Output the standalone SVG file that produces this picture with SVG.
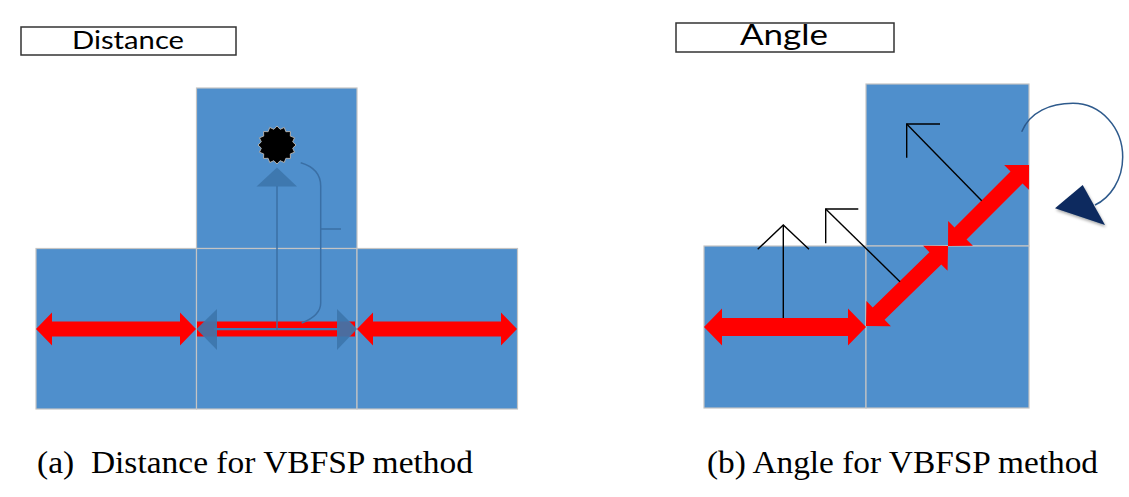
<svg xmlns="http://www.w3.org/2000/svg" width="1129" height="497" viewBox="0 0 1129 497">
<style>
.sq{fill:#4f8fcc;stroke:#c4c4c4;stroke-width:1.2}
.red{fill:#ff0000}
.bl{fill:none;stroke:#3a6fa5;stroke-width:1.5}
.tri{fill:#3d76ad;fill-opacity:0.92}
.blk{fill:none;stroke:#000;stroke-width:1.4}
.box{fill:#fff;stroke:#333;stroke-width:1.5}
.ttl{font-family:Lato,"Open Sans",sans-serif;fill:#000;text-anchor:middle}
.cap{font-family:"Liberation Serif","Times New Roman",serif;font-size:32px;fill:#000}
</style>
<defs>
<path id="dd" d="M0,0 L17.7,-17.5 L17.7,-8.5 L96.9,-8.5 L96.9,-17.5 L114.6,0 L96.9,17.5 L96.9,8.5 L17.7,8.5 L17.7,17.5 Z"/>
<filter id="sh" x="-30%" y="-30%" width="160%" height="160%"><feGaussianBlur in="SourceAlpha" stdDeviation="1.5"/><feOffset dx="1" dy="2"/><feComponentTransfer><feFuncA type="linear" slope="0.35"/></feComponentTransfer><feMerge><feMergeNode/><feMergeNode in="SourceGraphic"/></feMerge></filter>
</defs>
<rect width="1129" height="497" fill="#fff"/>

<!-- Left figure -->
<g id="dist-label">
<rect class="box" x="21" y="27" width="215" height="28"/>
<text class="ttl" x="128" y="49" font-size="25" textLength="112" lengthAdjust="spacingAndGlyphs">Distance</text>
</g>
<g id="left-top"><rect class="sq" x="196.5" y="88" width="160.5" height="160.5"/></g>
<g id="left-bl"><rect class="sq" x="36" y="248.5" width="160.5" height="160.5"/></g>
<g id="left-bm"><rect class="sq" x="196.5" y="248.5" width="160.5" height="160.5"/></g>
<g id="left-br"><rect class="sq" x="357" y="248.5" width="160.5" height="160.5"/></g>
<g id="target">
<polygon fill="#000" stroke="#b0b0b0" stroke-width="1" points="277,126 280.12,129.31 284.27,127.45 285.89,131.7 290.43,131.57 290.3,136.11 294.55,137.73 292.69,141.88 296,145 292.69,148.12 294.55,152.27 290.3,153.89 290.43,158.43 285.89,158.3 284.27,162.55 280.12,160.69 277,164 273.88,160.69 269.73,162.55 268.11,158.3 263.57,158.43 263.7,153.89 259.45,152.27 261.31,148.12 258,145 261.31,141.88 259.45,137.73 263.7,136.11 263.57,131.57 268.11,131.7 269.73,127.45 273.88,129.31"/>
</g>

<!-- Right figure -->
<g id="angle-label">
<rect class="box" x="676" y="23" width="218" height="29"/>
<text class="ttl" x="784" y="45" font-size="29" textLength="88" lengthAdjust="spacingAndGlyphs">Angle</text>
</g>
<g id="right-top"><rect class="sq" x="866" y="84" width="163" height="162"/></g>
<g id="right-bl"><rect class="sq" x="704" y="246" width="162" height="162"/></g>
<g id="right-br"><rect class="sq" x="866" y="246" width="163" height="162"/></g>

<g id="connectors">
<!-- left figure red arrows -->
<polygon class="red" points="36,329 52,312.5 52,321.5 180,321.5 180,312.5 196,329 180,345.5 180,336.5 52,336.5 52,345.5"/>
<polygon class="red" points="357,329 373,312.5 373,321.5 501,321.5 501,312.5 517,329 501,345.5 501,336.5 373,336.5 373,345.5"/>
<rect class="red" x="197" y="321.5" width="158" height="15"/>
<line x1="214" y1="329.2" x2="340" y2="329.2" stroke="#3f7ab5" stroke-width="2.2"/>
<polygon class="tri" points="196.5,329 217,309 217,350"/>
<polygon class="tri" points="357,329 337,309 337,350"/>
<line class="bl" x1="277" y1="330" x2="277" y2="186"/>
<polygon class="tri" points="277,167.5 256.5,186.5 297,186.5"/>
<path class="bl" d="M300.7,162.7 C312,166 320.7,173 320.7,186 L320.7,303 C320.7,313 312,319 301.7,323"/>
<line class="bl" x1="320.7" y1="229" x2="341" y2="229"/>

<!-- right figure red arrows -->
<polygon class="red" points="704,327 722,308.5 722,318 848,318 848,308.5 866,327 848,345.5 848,336 722,336 722,345.5"/>
<use href="#dd" class="red" transform="translate(866,326) rotate(-44.3)"/>
<use href="#dd" class="red" transform="translate(948,246) rotate(-45)"/>

<!-- black normal arrows -->
<line class="blk" x1="783.3" y1="318" x2="783.3" y2="225"/>
<polyline class="blk" points="757.7,249.3 783.3,225 809,249.3"/>
<line class="blk" x1="900" y1="281.7" x2="825.7" y2="209"/>
<polyline class="blk" points="858.3,209 825.7,209 825.7,243.3"/>
<line class="blk" x1="981.7" y1="200.7" x2="906.7" y2="124"/>
<polyline class="blk" points="940,124 906.7,124 906.7,157.7"/>

<!-- rotation arrow -->
<path d="M1021.7,131.7 C1030,112 1050,103.3 1073,103.3 C1101,103.3 1122.7,128 1122.7,157 C1122.7,180 1110,198 1095,205" fill="none" stroke="#2e5a8c" stroke-width="1.5"/>
<polygon points="1055,208.3 1082.7,185 1105,225" fill="#0b2a5e" filter="url(#sh)"/>
</g>

<g id="captions">
<text class="cap" x="37" y="473" textLength="436" lengthAdjust="spacingAndGlyphs" xml:space="preserve">(a)  Distance for VBFSP method</text>
<text class="cap" x="707" y="473" textLength="391" lengthAdjust="spacingAndGlyphs">(b) Angle for VBFSP method</text>
</g>
</svg>
